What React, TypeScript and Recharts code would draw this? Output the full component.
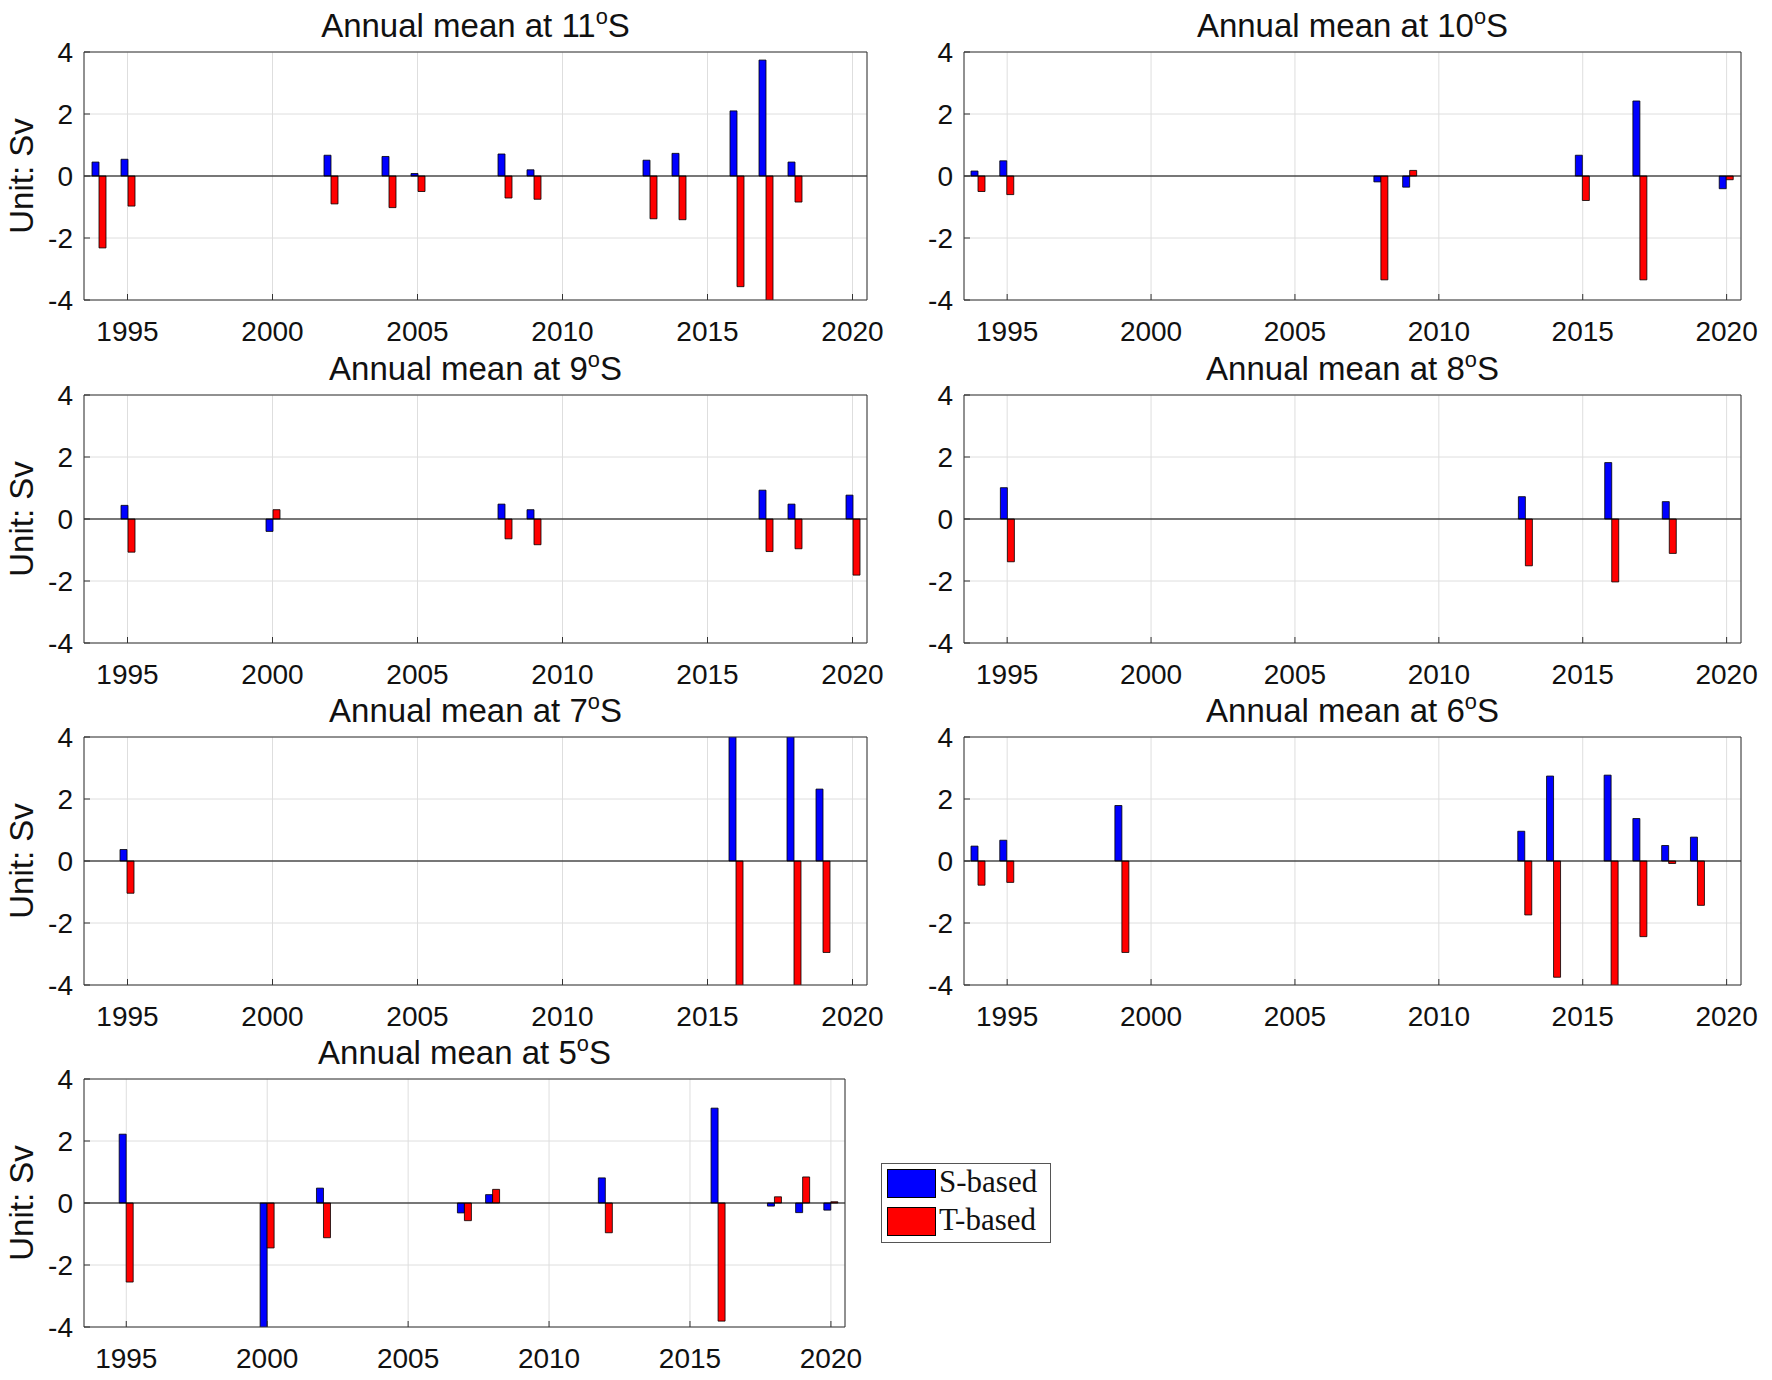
import React from "react";
import {
  BarChart,
  Bar,
  XAxis,
  YAxis,
  CartesianGrid,
  ReferenceLine,
} from "recharts";

const FONT = '"Liberation Sans", Arial, Helvetica, sans-serif';
const SERIF = '"Liberation Serif", "DejaVu Serif", serif';

const YEAR_TICKS = [1995, 2000, 2005, 2010, 2015, 2020];
const VALUE_TICKS = [-4, -2, 0, 2, 4];
const SERIES = [
  { key: "s", name: "S-based", color: "#0000ff" },
  { key: "t", name: "T-based", color: "#ff0000" },
];

// 11°S
const YEARS_11S = [1994, 1995, 2002, 2004, 2005, 2008, 2009, 2013, 2014, 2016, 2017, 2018];
const S_11S = [0.45, 0.54, 0.67, 0.63, 0.08, 0.71, 0.2, 0.51, 0.73, 2.1, 3.74, 0.45];
const T_11S = [-2.32, -0.97, -0.9, -1.02, -0.5, -0.71, -0.75, -1.38, -1.41, -3.57, -4.1, -0.84];

// 10°S
const YEARS_10S = [1994, 1995, 2008, 2009, 2015, 2017, 2020];
const S_10S = [0.16, 0.49, -0.19, -0.36, 0.67, 2.42, -0.41];
const T_10S = [-0.5, -0.6, -3.35, 0.18, -0.79, -3.35, -0.12];

// 9°S
const YEARS_9S = [1995, 2000, 2008, 2009, 2017, 2018, 2020];
const S_9S = [0.44, -0.4, 0.48, 0.3, 0.93, 0.48, 0.77];
const T_9S = [-1.07, 0.3, -0.64, -0.83, -1.05, -0.96, -1.81];

// 8°S
const YEARS_8S = [1995, 2013, 2016, 2018];
const S_8S = [1.01, 0.72, 1.82, 0.56];
const T_8S = [-1.38, -1.51, -2.03, -1.11];

// 7°S (2016 and 2018 run off the axis)
const YEARS_7S = [1995, 2016, 2018, 2019];
const S_7S = [0.37, 4.5, 4.4, 2.32];
const T_7S = [-1.04, -4.6, -4.5, -2.95];

// 6°S
const YEARS_6S = [1994, 1995, 1999, 2013, 2014, 2016, 2017, 2018, 2019];
const S_6S = [0.48, 0.67, 1.79, 0.96, 2.74, 2.77, 1.37, 0.5, 0.77];
const T_6S = [-0.78, -0.69, -2.95, -1.74, -3.75, -4.1, -2.44, -0.08, -1.43];

// 5°S
const YEARS_5S = [1995, 2000, 2002, 2007, 2008, 2012, 2016, 2018, 2019, 2020];
const S_5S = [2.22, -4.3, 0.48, -0.32, 0.27, 0.81, 3.06, -0.1, -0.31, -0.23];
const T_5S = [-2.55, -1.45, -1.12, -0.57, 0.44, -0.96, -3.81, 0.2, 0.84, 0.04];

const CHART_W = 886;
const CHART_H = 360;
const PLOT_TOP = 52;
const PLOT_H = 248;
const AXIS_COLOR = "#333333";

interface PanelProps {
  lat: string;
  years: number[];
  s: number[];
  t: number[];
  left: number;
  plotTop: number;
  axisWidth: number;
  plotWidth: number;
  showLabel?: boolean;
}

function Panel({ lat, years, s, t, left, plotTop, axisWidth, plotWidth, showLabel }: PanelProps) {
  const data = years.map((year, i) => ({ year, s: s[i], t: t[i] }));
  const tickStyle = { fontSize: 28, fill: "#111", fontFamily: FONT };

  return (
    <div style={{ position: "absolute", left, top: plotTop - PLOT_TOP, width: CHART_W, height: CHART_H }}>
      <div
        style={{
          position: "absolute",
          left: axisWidth,
          width: plotWidth,
          top: 8,
          textAlign: "center",
          fontFamily: FONT,
          fontSize: 33,
          lineHeight: "36px",
          color: "#111",
          whiteSpace: "nowrap",
        }}
      >
        Annual mean at {lat}
        <span style={{ fontSize: "0.66em", position: "relative", top: "-0.62em" }}>o</span>S
      </div>
      <BarChart
        width={CHART_W}
        height={CHART_H}
        data={data}
        barGap={0}
        margin={{
          top: PLOT_TOP - 1,
          right: CHART_W - axisWidth - plotWidth - 1,
          bottom: 0,
          left: 0,
        }}
      >
        <CartesianGrid stroke="#dedede" />
        <XAxis
          dataKey="year"
          type="number"
          domain={[1993.5, 2020.5]}
          ticks={YEAR_TICKS}
          interval={0}
          allowDataOverflow
          height={CHART_H - PLOT_TOP - PLOT_H}
          stroke={AXIS_COLOR}
          tickSize={-6}
          tickMargin={27}
          tick={tickStyle}
        />
        <XAxis
          xAxisId="top"
          orientation="top"
          dataKey="year"
          type="number"
          domain={[1993.5, 2020.5]}
          ticks={YEAR_TICKS}
          allowDataOverflow
          height={1}
          stroke={AXIS_COLOR}
          tickSize={-6}
          tick={false}
        />
        <YAxis
          type="number"
          domain={[-4, 4]}
          ticks={VALUE_TICKS}
          interval={0}
          allowDataOverflow
          width={axisWidth}
          stroke={AXIS_COLOR}
          tickSize={-6}
          tickMargin={17}
          tick={tickStyle}
          label={
            showLabel
              ? {
                  value: "Unit: Sv",
                  angle: -90,
                  position: "center",
                  dx: -21,
                  style: { fontSize: 33, fill: "#111", fontFamily: FONT },
                }
              : undefined
          }
        />
        <YAxis
          yAxisId="right"
          orientation="right"
          type="number"
          domain={[-4, 4]}
          ticks={VALUE_TICKS}
          allowDataOverflow
          width={1}
          stroke={AXIS_COLOR}
          tickSize={-6}
          tick={false}
        />
        {SERIES.map((ser) => (
          <Bar
            key={ser.key}
            dataKey={ser.key}
            name={ser.name}
            fill={ser.color}
            stroke="#000"
            strokeWidth={0.8}
            barSize={7}
            isAnimationActive={false}
          />
        ))}
        <ReferenceLine y={0} stroke="#000" strokeWidth={1.2} />
      </BarChart>
    </div>
  );
}

function LegendBox() {
  return (
    <div
      style={{
        position: "absolute",
        left: 881,
        top: 1163,
        width: 168,
        height: 78,
        border: "1px solid #555",
        background: "#fff",
      }}
    >
      {SERIES.map((ser, i) => (
        <div key={ser.key} style={{ position: "absolute", left: 5, top: 5 + i * 38, height: 30 }}>
          <div
            style={{
              position: "absolute",
              left: 0,
              top: 0,
              width: 47,
              height: 27,
              background: ser.color,
              border: "1px solid #000",
            }}
          />
          <div
            style={{
              position: "absolute",
              left: 52,
              top: -5,
              fontFamily: SERIF,
              fontSize: 31,
              lineHeight: "36px",
              color: "#111",
              whiteSpace: "nowrap",
            }}
          >
            {ser.name}
          </div>
        </div>
      ))}
    </div>
  );
}

export default function App() {
  return (
    <div
      style={{
        position: "absolute",
        left: 0,
        top: 0,
        width: 1772,
        height: 1380,
        background: "#fff",
        overflow: "hidden",
      }}
    >
      <Panel lat="11" years={YEARS_11S} s={S_11S} t={T_11S} left={0} plotTop={52} axisWidth={84} plotWidth={783} showLabel />
      <Panel lat="10" years={YEARS_10S} s={S_10S} t={T_10S} left={886} plotTop={52} axisWidth={78} plotWidth={777} />
      <Panel lat="9" years={YEARS_9S} s={S_9S} t={T_9S} left={0} plotTop={395} axisWidth={84} plotWidth={783} showLabel />
      <Panel lat="8" years={YEARS_8S} s={S_8S} t={T_8S} left={886} plotTop={395} axisWidth={78} plotWidth={777} />
      <Panel lat="7" years={YEARS_7S} s={S_7S} t={T_7S} left={0} plotTop={737} axisWidth={84} plotWidth={783} showLabel />
      <Panel lat="6" years={YEARS_6S} s={S_6S} t={T_6S} left={886} plotTop={737} axisWidth={78} plotWidth={777} />
      <Panel lat="5" years={YEARS_5S} s={S_5S} t={T_5S} left={0} plotTop={1079} axisWidth={84} plotWidth={761} showLabel />
      <LegendBox />
    </div>
  );
}
